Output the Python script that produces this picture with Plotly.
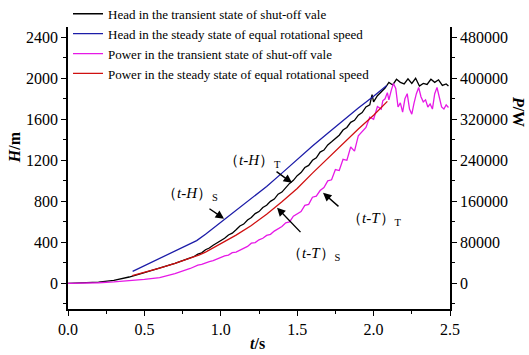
import plotly.graph_objects as go

# ---------------- data ----------------
# Head in the transient state of shut-off valve (H, m)
t_head_tr = [0, 0.1, 0.2, 0.3, 0.4, 0.5, 0.6, 0.7, 0.8,
             0.825, 0.85, 0.875, 0.9, 0.925, 0.95, 0.975, 1.0, 1.025, 1.05, 1.075, 1.1,
             1.125, 1.15, 1.175, 1.2, 1.225, 1.25, 1.275, 1.3, 1.325, 1.35, 1.375, 1.4,
             1.425, 1.45, 1.475, 1.5, 1.525, 1.55, 1.575, 1.6, 1.625, 1.65, 1.675, 1.7,
             1.725, 1.75, 1.775, 1.8, 1.825, 1.85, 1.875, 1.9, 1.925, 1.95, 1.975, 1.99,
             2.0, 2.025, 2.05, 2.075, 2.1, 2.125, 2.15, 2.175, 2.2, 2.225, 2.25, 2.275,
             2.3, 2.325, 2.35, 2.375, 2.4, 2.425, 2.45, 2.475, 2.49]
h_head_tr = [0, 3, 12, 30, 62, 105, 148, 195, 248,
             262, 285, 298, 328, 345, 372, 395, 420, 440, 472, 490, 522,
             560, 578, 618, 642, 680, 700, 740, 762, 800, 822, 870, 890,
             935, 975, 1005, 1050, 1080, 1130, 1150, 1200, 1225, 1280, 1300, 1350,
             1380, 1415, 1445, 1495, 1520, 1570, 1590, 1640, 1665, 1720, 1740, 1840,
             1770, 1830, 1870, 1905, 1960, 1935, 1990, 1960, 1945, 1995, 1950, 2000,
             1925, 1950, 1940, 1990, 1960, 1985, 1930, 1945, 1925]

# Head in the steady state of equal rotational speed (H, m)
t_head_st = [0.423, 0.842, 0.9, 1.0, 1.1, 1.2, 1.3, 1.4, 1.5, 1.6, 1.7, 1.8, 1.9, 2.0, 2.086]
h_head_st = [117, 417, 478, 595, 705, 820, 945, 1075, 1210, 1340, 1465, 1590, 1710, 1825, 1929]

# Power in the transient state of shut-off valve (P, W)
t_pow_tr = [0, 0.1, 0.2, 0.3, 0.4, 0.5, 0.6, 0.7, 0.8,
            0.825, 0.85, 0.875, 0.9, 0.925, 0.95, 0.975, 1.0, 1.025, 1.05, 1.075, 1.1,
            1.125, 1.15, 1.175, 1.2, 1.225, 1.25, 1.275, 1.3, 1.325, 1.35, 1.375, 1.4,
            1.425, 1.45, 1.475, 1.5, 1.525, 1.55, 1.575, 1.6, 1.625, 1.65, 1.675, 1.7,
            1.725, 1.75, 1.775, 1.8, 1.825, 1.85, 1.875, 1.9, 1.925, 1.95, 1.975, 2.0,
            2.025, 2.05, 2.06, 2.075, 2.09, 2.1, 2.115, 2.13, 2.145, 2.16, 2.175, 2.19,
            2.205, 2.22, 2.235, 2.25, 2.265, 2.28, 2.295, 2.31, 2.325, 2.34, 2.355, 2.37,
            2.385, 2.4, 2.415, 2.43, 2.445, 2.46, 2.475, 2.49]
p_pow_tr = [0, 400, 1200, 2800, 4800, 7600, 11400, 19000, 29000,
            32000, 35600, 37000, 40000, 42400, 44400, 48000, 50000, 53600, 55000, 60000, 61000,
            65000, 69000, 72000, 78400, 79600, 85000, 88000, 93600, 95600, 102000, 106000, 111000,
            118000, 120000, 131000, 136000, 140000, 152000, 154000, 168000, 170000, 181000, 187000, 200000,
            202000, 222000, 220000, 242000, 240000, 266000, 258000, 288000, 296000, 304000, 324000, 320000,
            345000, 340000, 356000, 360000, 372000, 358000, 376000, 390000, 380000, 344000, 352000, 334000,
            360000, 370000, 340000, 330000, 352000, 370000, 382000, 364000, 354000, 358000, 344000, 350000,
            340000, 370000, 382000, 360000, 344000, 340000, 348000, 343000]

# Power in the steady state of equal rotational speed (P, W)
t_pow_st = [0.42, 0.5, 0.6, 0.7, 0.8, 0.86, 0.9, 1.0, 1.1, 1.2, 1.3, 1.4, 1.5, 1.6, 1.7, 1.8, 1.9, 2.0, 2.09]
p_pow_st = [15000, 21000, 29600, 39000, 49000, 55400, 61000, 77000, 94000, 113000, 135000, 159000,
            185000, 215000, 244000, 273000, 301000, 328000, 355000]

names = ["Head in the transient state of shut-off vale",
         "Head in the steady state of equal rotational speed",
         "Power in the transient state of shut-off vale",
         "Power in the steady state of equal rotational speed"]
colors = ["#000000", "#1c1ca8", "#e619e6", "#d01010"]

x_ticks = [0.0, 0.5, 1.0, 1.5, 2.0, 2.5]
h_ticks = [0, 400, 800, 1200, 1600, 2000, 2400]
p_ticks = [0, 80000, 160000, 240000, 320000, 400000, 480000]

SERIF = "Liberation Serif"

fig = go.Figure()
fig.add_trace(go.Scatter(x=t_head_tr, y=h_head_tr, mode="lines", name=names[0],
                         line=dict(color=colors[0], width=1.3)))
fig.add_trace(go.Scatter(x=t_head_st, y=h_head_st, mode="lines", name=names[1],
                         line=dict(color=colors[1], width=1.3)))
fig.add_trace(go.Scatter(x=t_pow_tr, y=p_pow_tr, mode="lines", name=names[2], yaxis="y2",
                         line=dict(color=colors[2], width=1.3)))
fig.add_trace(go.Scatter(x=t_pow_st, y=p_pow_st, mode="lines", name=names[3], yaxis="y2",
                         line=dict(color=colors[3], width=1.3)))

axis_common = dict(showline=True, linecolor="black", linewidth=1.5, ticks="outside",
                   ticklen=5, tickwidth=1.2, tickcolor="black", showgrid=False, zeroline=False,
                   tickfont=dict(family=SERIF, size=16, color="black"))

fig.update_layout(
    width=529, height=355,
    margin=dict(l=68, r=79, t=27, b=46, autoexpand=False),
    paper_bgcolor="white", plot_bgcolor="white",
    font=dict(family=SERIF, color="black"),
    xaxis=dict(range=[0, 2.5], tickvals=x_ticks, ticktext=[f"{v:.1f}" for v in x_ticks],
               minor=dict(dtick=0.25, tick0=0, ticks="outside", ticklen=3, tickcolor="black"),
               **axis_common),
    yaxis=dict(range=[-250, 2500], tickvals=h_ticks, ticktext=[str(v) for v in h_ticks],
               minor=dict(dtick=200, tick0=0, ticks="outside", ticklen=3, tickcolor="black"),
               **axis_common),
    yaxis2=dict(range=[-50000, 500000], overlaying="y", side="right",
                tickvals=p_ticks, ticktext=[str(v) for v in p_ticks],
                minor=dict(dtick=40000, tick0=0, ticks="outside", ticklen=3, tickcolor="black"),
                **axis_common),
    legend=dict(x=0.0, y=1.10, xanchor="left", yanchor="top", bgcolor="rgba(0,0,0,0)",
                font=dict(family=SERIF, size=13, color="black"), tracegroupgap=0),
    showlegend=True,
)

anns = []
# axis titles
anns.append(dict(text="<b><i>H</i>/m</b>", xref="paper", yref="paper", x=-0.141, y=0.574,
                 xanchor="center", yanchor="middle",
                 textangle=-90, showarrow=False, font=dict(family=SERIF, size=16, color="black")))
anns.append(dict(text="<b><i>P</i>/W</b>", xref="paper", yref="paper", x=1.178, y=0.699,
                 xanchor="center", yanchor="middle",
                 textangle=90, showarrow=False, font=dict(family=SERIF, size=16, color="black")))
anns.append(dict(text="<b><i>t</i>/s</b>", xref="paper", yref="paper", x=0.497, y=-0.122,
                 xanchor="center", yanchor="middle",
                 showarrow=False, font=dict(family=SERIF, size=16, color="black")))

# curve labels
labels = [("（<i>t-H</i>）<sub>S</sub>", 0.60, 870),
          ("（<i>t-H</i>）<sub>T</sub>", 1.01, 1190),
          ("（<i>t-T</i>）<sub>T</sub>", 1.81, 625),
          ("（<i>t-T</i>）<sub>S</sub>", 1.423, 283)]
for txt, lx, ly in labels:
    anns.append(dict(text=txt, x=lx, y=ly, xref="x", yref="y", xanchor="left", yanchor="middle",
                     showarrow=False, font=dict(family=SERIF, size=15, color="black")))

# arrows (tail -> tip)
arrows = [((0.916, 738), (1.021, 631)),
          ((1.355, 1100), (1.466, 980)),
          ((1.780, 738), (1.669, 883)),
          ((1.531, 485), (1.368, 738))]
for (tx, ty), (hx, hy) in arrows:
    anns.append(dict(text="", x=hx, y=hy, ax=tx, ay=ty, xref="x", yref="y", axref="x", ayref="y",
                     showarrow=True, arrowhead=2, arrowsize=1.2, arrowwidth=1.4, arrowcolor="black"))

fig.update_layout(annotations=anns)
fig.write_html("out.html", config={"displayModeBar": False},
               post_script="document.body.style.margin='0';document.body.style.padding='0';")
